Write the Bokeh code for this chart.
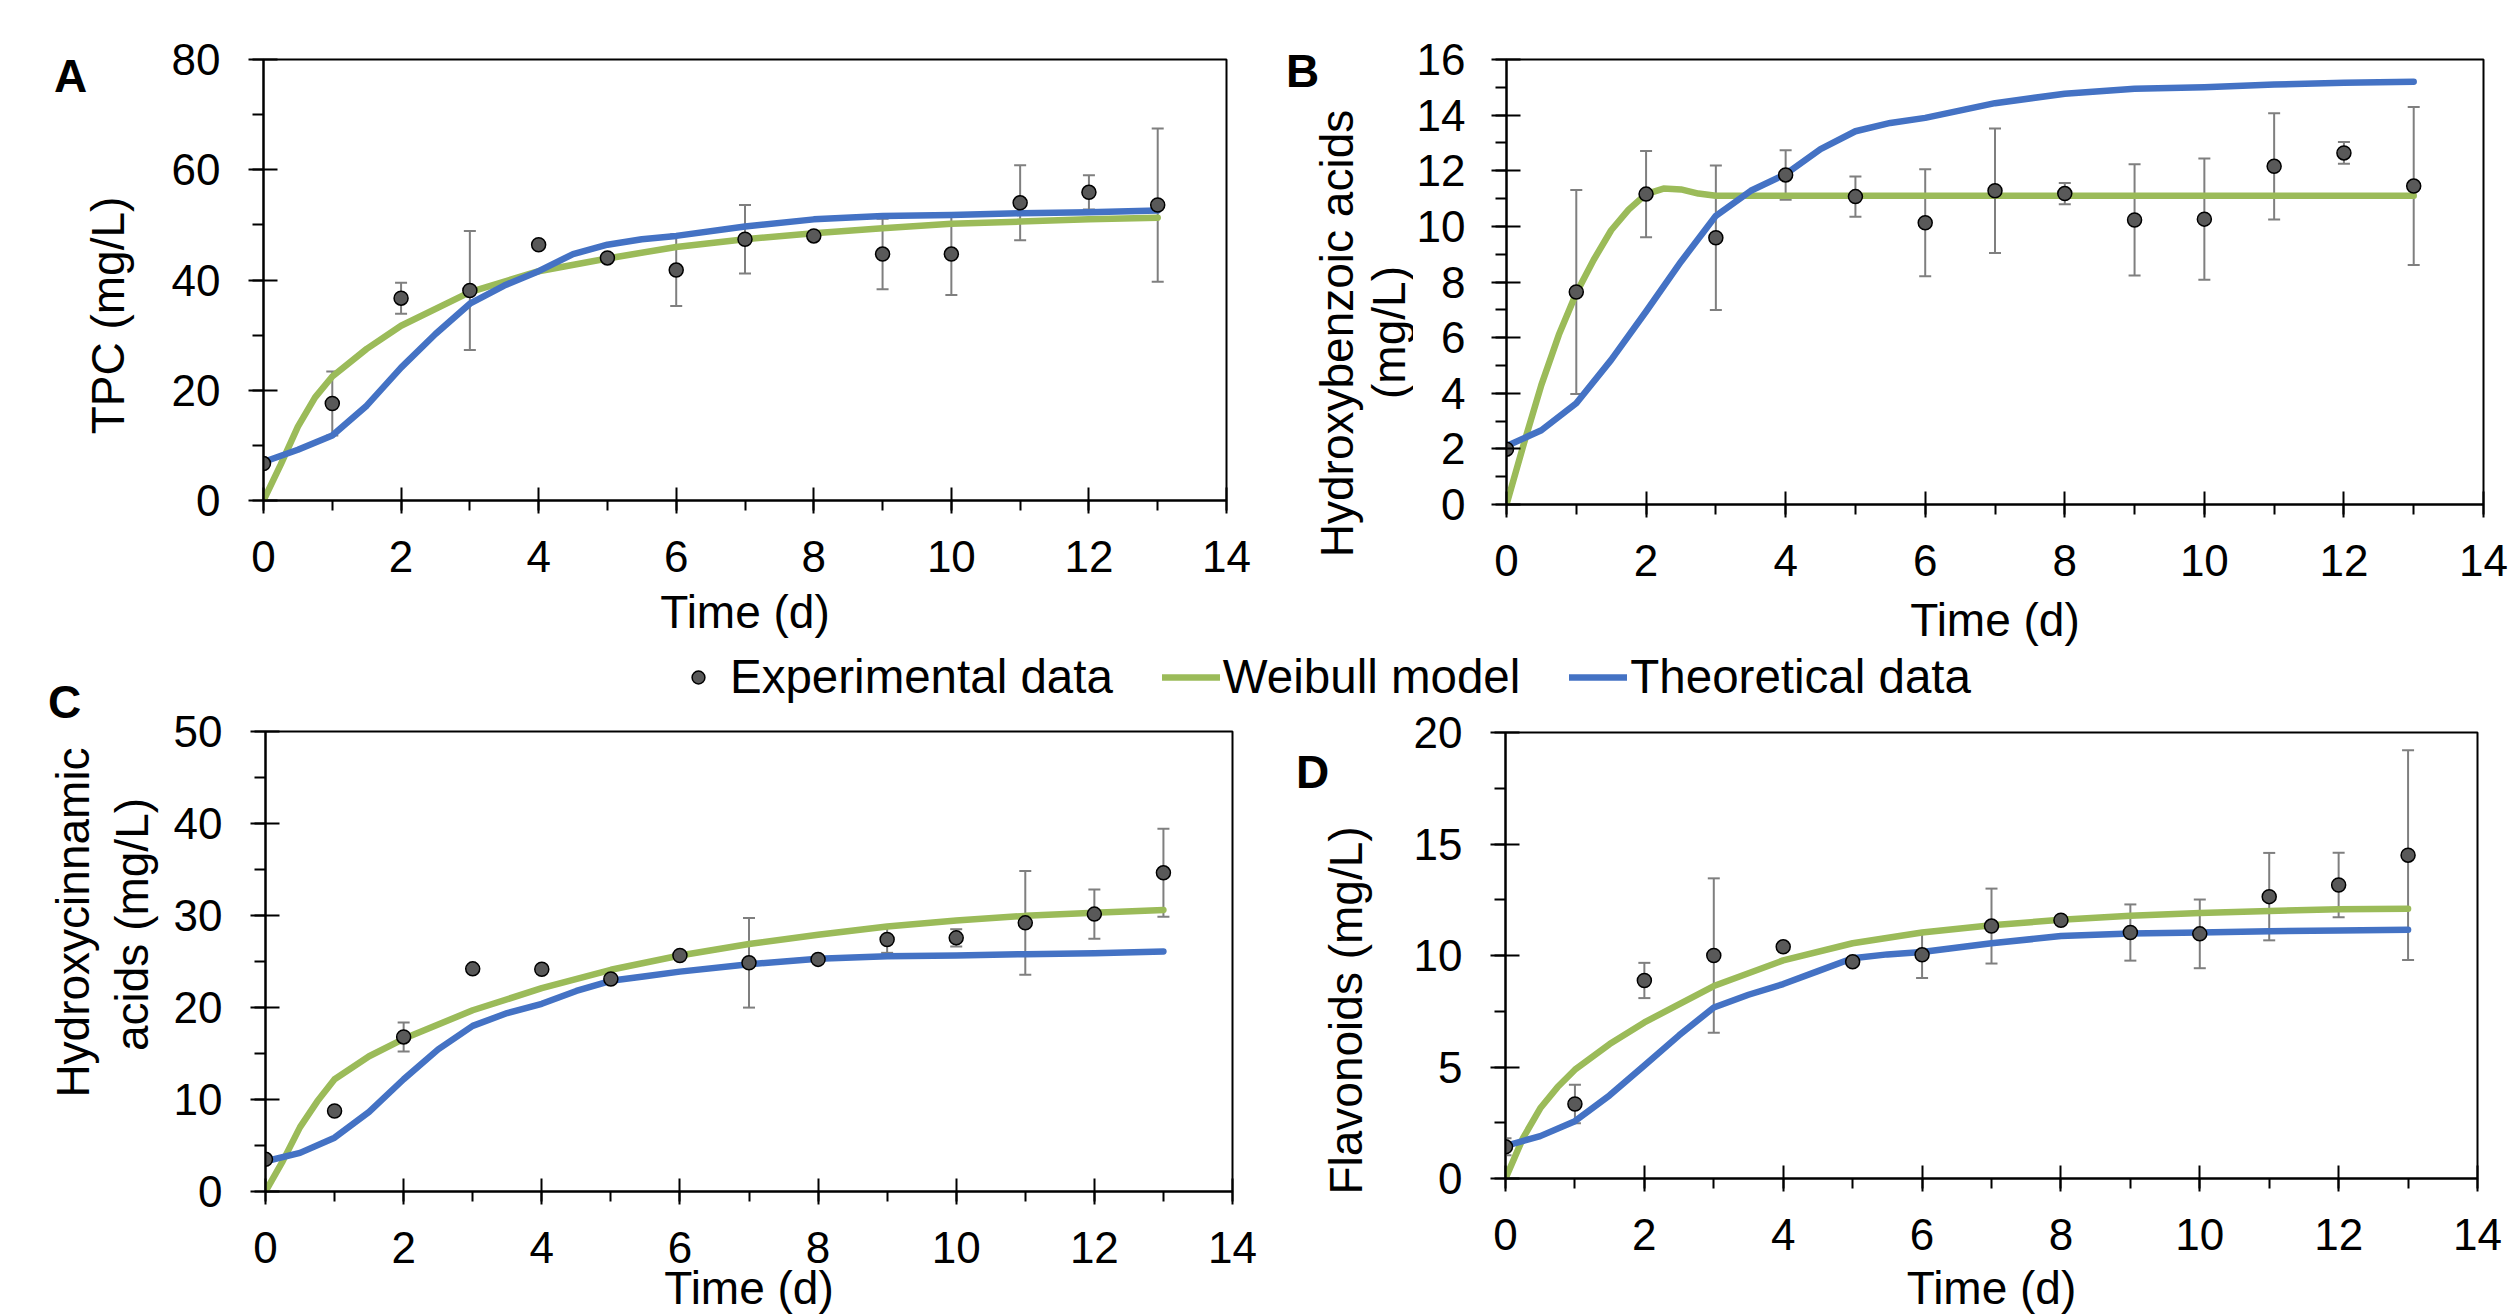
import math
from bokeh.plotting import figure
from bokeh.models import (Range1d, SingleIntervalTicker, Whisker, TeeHead,
                          ColumnDataSource, Legend, LegendItem)
from bokeh.core.properties import value
from bokeh.layouts import column, row
from bokeh.embed import file_html
from bokeh.resources import INLINE

# ---------------- data ----------------
days = [0, 1, 2, 3, 4, 5, 6, 7, 8, 9, 10, 11, 12, 13]

# Panel A: TPC
A_exp = [6.7, 17.6, 36.7, 38.1, 46.4, 44.0, 41.8, 47.4, 48.0, 44.7, 44.7, 54.0, 55.9, 53.6]
A_err = [0, 5.8, 2.8, 10.8, 0, 0, 6.5, 6.2, 0, 6.4, 7.4, 6.8, 3.1, 13.9]
A_weib_t = [0, 0.25, 0.5, 0.75, 1, 1.5, 2, 3, 4, 5, 6, 7, 8, 9, 10, 11, 12, 13]
A_weib = [0, 6.5, 13.4, 18.7, 22.5, 27.5, 31.7, 37.8, 41.6, 43.9, 46.0, 47.4, 48.5, 49.4, 50.2, 50.6, 51.0, 51.3]
A_theo_t = [0, 0.5, 1, 1.5, 2, 2.5, 3, 3.5, 4, 4.5, 5, 5.5, 6, 7, 8, 9, 10, 11, 12, 13]
A_theo = [7.0, 9.2, 11.8, 17.2, 24.1, 30.2, 35.7, 39.0, 41.6, 44.7, 46.4, 47.4, 48.0, 49.7, 51.0, 51.6, 51.8, 52.1, 52.3, 52.6]

# Panel B: Hydroxybenzoic acids
B_exp = [1.99, 7.64, 11.16, 9.59, 11.85, 11.07, 10.13, 11.28, 11.18, 10.23, 10.26, 12.16, 12.64, 11.45]
B_err = [0, 3.67, 1.55, 2.6, 0.89, 0.72, 1.92, 2.24, 0.38, 2.0, 2.18, 1.91, 0.39, 2.84]
B_weib_t = [0, 0.25, 0.5, 0.75, 1, 1.25, 1.5, 1.75, 2, 2.25, 2.5, 2.75, 3, 4, 5, 6, 7, 8, 9, 10, 11, 12, 13]
B_weib = [0, 2.2, 4.3, 6.1, 7.6, 8.8, 9.86, 10.6, 11.16, 11.36, 11.33, 11.18, 11.1, 11.1, 11.1, 11.1,
          11.1, 11.1, 11.1, 11.1, 11.1, 11.1, 11.1]
B_theo_t = [0, 0.5, 1, 1.5, 2, 2.5, 3, 3.5, 4, 4.5, 5, 5.5, 6, 7, 8, 9, 10, 11, 12, 13]
B_theo = [2.1, 2.67, 3.64, 5.2, 6.94, 8.73, 10.38, 11.28, 11.88, 12.78, 13.42, 13.72, 13.9, 14.43, 14.77, 14.95, 15.0, 15.1, 15.16, 15.2]

# Panel C: Hydroxycinnamic acids
C_exp = [3.5, 8.75, 16.8, 24.2, 24.16, 23.1, 25.65, 24.86, 25.23, 27.39, 27.57, 29.2, 30.15, 34.64]
C_err = [0, 0, 1.57, 0, 0, 0, 0, 4.87, 0, 1.45, 0.94, 5.64, 2.67, 4.78]
C_weib_t = [0, 0.25, 0.5, 0.75, 1, 1.5, 2, 3, 4, 5, 6, 7, 8, 9, 10, 11, 12, 13]
C_weib = [0, 3.3, 7.0, 9.8, 12.2, 14.7, 16.6, 19.7, 22.1, 24.1, 25.65, 26.9, 27.9, 28.8, 29.45, 29.96, 30.3, 30.6]
C_theo_t = [0, 0.5, 1, 1.5, 2, 2.5, 3, 3.5, 4, 4.5, 5, 5.5, 6, 7, 8, 9, 10, 11, 12, 13]
C_theo = [3.28, 4.2, 5.85, 8.66, 12.2, 15.45, 18.0, 19.4, 20.4, 21.8, 22.9, 23.4, 23.9, 24.7, 25.3, 25.56, 25.65, 25.8, 25.9, 26.1]

# Panel D: Flavonoids
D_exp = [1.42, 3.34, 8.88, 10.0, 10.39, 9.72, 10.03, 11.32, 11.58, 11.03, 10.97, 12.64, 13.16, 14.5]
D_err = [0.38, 0.86, 0.79, 3.46, 0, 0, 1.04, 1.68, 0, 1.26, 1.54, 1.96, 1.45, 4.7]
D_weib_t = [0, 0.25, 0.5, 0.75, 1, 1.5, 2, 3, 4, 5, 6, 7, 8, 9, 10, 11, 12, 13]
D_weib = [0, 1.8, 3.15, 4.1, 4.88, 6.03, 7.0, 8.63, 9.78, 10.55, 11.03, 11.36, 11.6, 11.78, 11.91, 12.0, 12.07, 12.1]
D_theo_t = [0, 0.5, 1, 1.5, 2, 2.5, 3, 3.5, 4, 4.5, 5, 5.5, 6, 7, 8, 9, 10, 11, 12, 13]
D_theo = [1.46, 1.9, 2.57, 3.73, 5.07, 6.42, 7.67, 8.24, 8.72, 9.3, 9.88, 10.05, 10.16, 10.55, 10.87, 10.99, 11.03, 11.09, 11.12, 11.16]

series_names = ["Experimental data", "Weibull model", "Theoretical data"]
x_title = "Time (d)"

# ---------------- style ----------------
FONT = "Liberation Sans"
GREEN = "#9BBB59"
BLUE = "#4472C4"
MARK_FILL = "#595959"
ERR_COL = "#7F7F7F"
TICK_FS = "44px"
TITLE_FS = "46px"
LETTER_FS = "46px"


def bare(width, height, xr=(0, 1), yr=(0, 1)):
    f = figure(width=width, height=height, x_range=Range1d(*xr), y_range=Range1d(*yr),
               output_backend="svg", toolbar_location=None, title=None, min_border=0,
               x_axis_location=None, y_axis_location=None)
    f.frame_align = False
    f.xgrid.visible = False
    f.ygrid.visible = False
    f.outline_line_color = None
    f.background_fill_color = "white"
    f.border_fill_color = "white"
    return f


def label_fig(width, height, items):
    """items: (text, x_from_left, y_from_top, rotated, bold)"""
    f = bare(width, height, (0, width), (0, height))
    for text, x, ytop, rot, bold in items:
        f.text(x=[x], y=[height - ytop], text=[text], angle=math.pi / 2 if rot else 0,
               text_align="center", text_baseline="middle", text_color="black",
               text_font=value(FONT), text_font_size=value(LETTER_FS if bold else TITLE_FS),
               text_font_style="bold" if bold else "normal")
    return f


def panel(width, height, borders, ymax, ystep, exp, err, wt, wv, tt, tv,
          ylab_standoff=28, xtitle_standoff=8):
    bl, br, bt, bb = borders
    p = figure(width=width, height=height, x_range=Range1d(0, 14), y_range=Range1d(0, ymax),
               output_backend="svg", toolbar_location=None, title=None,
               min_border_left=bl, min_border_right=br, min_border_top=bt, min_border_bottom=bb)
    p.frame_align = False
    p.xgrid.visible = False
    p.ygrid.visible = False
    p.outline_line_color = "black"
    p.outline_line_width = 2
    p.background_fill_color = "white"
    p.border_fill_color = "white"

    p.xaxis.ticker = SingleIntervalTicker(interval=2, num_minor_ticks=2)
    p.yaxis.ticker = SingleIntervalTicker(interval=ystep, num_minor_ticks=2)
    for ax in (p.xaxis, p.yaxis):
        ax.axis_line_width = 2
        ax.axis_line_color = "black"
        ax.major_tick_line_width = 2
        ax.minor_tick_line_width = 2
        ax.major_tick_line_color = "black"
        ax.minor_tick_line_color = "black"
        ax.major_label_text_font = FONT
        ax.major_label_text_font_size = TICK_FS
        ax.major_label_text_color = "black"
        ax.minor_tick_in = 0
    p.xaxis.major_tick_in = 13
    p.xaxis.major_tick_out = 13
    p.xaxis.minor_tick_out = 10
    p.xaxis.major_label_standoff = 27
    p.xaxis.axis_label = x_title
    p.xaxis.axis_label_text_font = FONT
    p.xaxis.axis_label_text_font_size = TITLE_FS
    p.xaxis.axis_label_text_font_style = "normal"
    p.xaxis.axis_label_text_color = "black"
    p.xaxis.axis_label_standoff = xtitle_standoff
    p.yaxis.major_tick_in = 14
    p.yaxis.major_tick_out = 15
    p.yaxis.minor_tick_out = 11
    p.yaxis.major_label_standoff = ylab_standoff

    # error bars
    ex = [d for d, e in zip(days, err) if e > 0]
    up = [v + e for v, e in zip(exp, err) if e > 0]
    lo = [v - e for v, e in zip(exp, err) if e > 0]
    src = ColumnDataSource(dict(x=ex, upper=up, lower=lo))
    wh = Whisker(source=src, base="x", upper="upper", lower="lower",
                 line_color=ERR_COL, line_width=2, level="underlay",
                 upper_head=TeeHead(size=12, line_color=ERR_COL, line_width=2),
                 lower_head=TeeHead(size=12, line_color=ERR_COL, line_width=2))
    p.add_layout(wh)

    p.line(wt, wv, line_color=GREEN, line_width=6.5, line_cap="round", line_join="round")
    p.line(tt, tv, line_color=BLUE, line_width=6.5, line_cap="round", line_join="round")
    p.scatter(days, exp, size=14, fill_color=MARK_FILL, line_color="black", line_width=1.5)
    return p


# ---------------- top row (y 0..648) ----------------
labA = label_fig(150, 648, [("A", 70, 75, False, True),
                            ("TPC (mg/L)", 107, 315, True, False)])
pA = panel(1108, 648, (113, 32, 59, 148), 80, 20, A_exp, A_err,
           A_weib_t, A_weib, A_theo_t, A_theo, xtitle_standoff=11)
labB = label_fig(155, 648, [("B", 44, 70, False, True),
                            ("Hydroxybenzoic acids", 78, 333, True, False),
                            ("(mg/L)", 130, 332, True, False)])
pB = panel(1095, 648, (90, 25, 59, 140), 16, 2, B_exp, B_err,
           B_weib_t, B_weib, B_theo_t, B_theo, ylab_standoff=26, xtitle_standoff=15)

# ---------------- bottom part (y 648..1316) ----------------
labC = label_fig(160, 668, [("C", 64, 53, False, True),
                            ("Hydroxycinnamic", 72, 274, True, False),
                            ("acids (mg/L)", 131, 276, True, False)])

lg = bare(2348, 57, (-2, -1), (-2, -1))
r1 = lg.scatter(days, C_exp, size=14, fill_color=MARK_FILL, line_color="black", line_width=1.5)
r2 = lg.line(C_weib_t, C_weib, line_color=GREEN, line_width=6.5, line_cap="round")
r3 = lg.line(C_theo_t, C_theo, line_color=BLUE, line_width=6.5, line_cap="round")
legend = Legend(items=[LegendItem(label=series_names[0], renderers=[r1]),
                       LegendItem(label=series_names[1], renderers=[r2]),
                       LegendItem(label=series_names[2], renderers=[r3])],
                orientation="horizontal", location=(509, 1),
                glyph_width=58, glyph_height=32, label_standoff=3, spacing=49,
                padding=0, margin=0, border_line_color=None, background_fill_alpha=0,
                label_text_font=FONT, label_text_font_size="47.5px", label_text_color="black")
lg.add_layout(legend)

pC = panel(1098, 611, (105, 26, 26, 124), 50, 10, C_exp, C_err,
           C_weib_t, C_weib, C_theo_t, C_theo, xtitle_standoff=-4)
labD = label_fig(152, 611, [("D", 54, 66, False, True),
                            ("Flavonoids (mg/L)", 87, 305, True, False)])
pD = panel(1098, 611, (93, 31, 27, 135), 20, 5, D_exp, D_err,
           D_weib_t, D_weib, D_theo_t, D_theo, xtitle_standoff=9)

layout = column(row(labA, pA, labB, pB),
                row(labC, column(lg, row(pC, labD, pD))))
open("out.html", "w").write(file_html(layout, INLINE))
